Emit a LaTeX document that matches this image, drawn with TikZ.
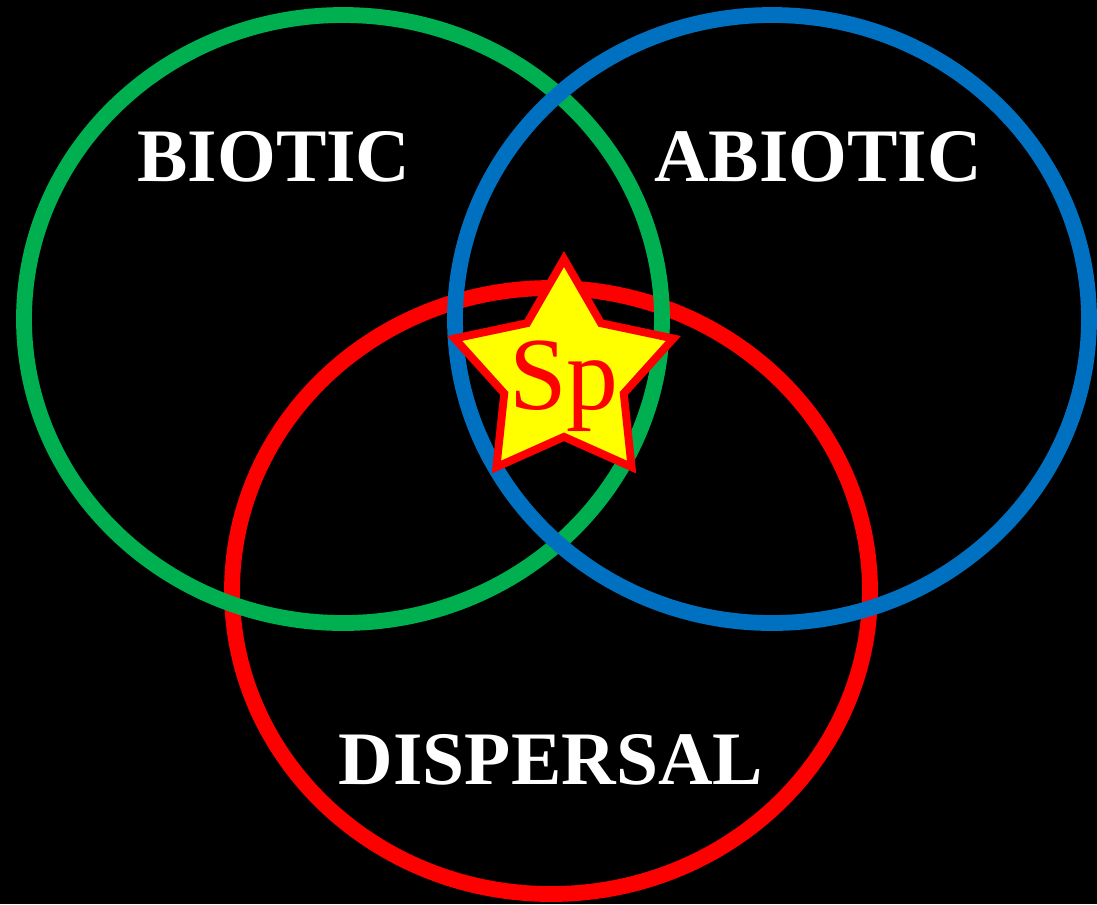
\documentclass[tikz,border=0pt]{standalone}
\usepackage{fontspec}
\setmainfont{Liberation Serif}
\usepackage{tikz}
\usetikzlibrary{shapes.geometric}
\definecolor{Green}{HTML}{00B050}
\definecolor{Blue}{HTML}{0070C0}
\definecolor{Red}{HTML}{FF0000}
\definecolor{Yellow}{HTML}{FFFF00}
\tikzset{ring/.style={line width=9pt},label/.style={text=white,font=\fontsize{43}{47}\selectfont\bfseries},spstar/.style={star,star points=5,star point ratio=1.83,minimum size=4.6cm,inner sep=0pt,draw=Red,fill=Yellow,line width=4.5pt},sptext/.style={text=Red,font=\fontsize{59}{64}\selectfont,inner sep=0pt}}

\begin{document}
\begin{tikzpicture}[x=0.02cm,y=-0.02cm]
      \fill[black](0,0)rectangle(1097,904);
      \useasboundingbox(0,0)rectangle(1097,904);
      \draw[ring,Red](551,591)ellipse[x radius=319,y radius=303];
      \draw[ring,Green](343,319)ellipse[x radius=319,y radius=304];
      \draw[ring,Blue](772,319)ellipse[x radius=317,y radius=304];
      \node[label](bio)at(274,157){BIOTIC};
      \node[label](abio)at(818,157){ABIOTIC};
      \node[label](disp)at(551,760){DISPERSAL};
      \node[spstar](star)at(564,374){};
      \node[sptext](sp)at(564,386){Sp};
    \end{tikzpicture}
\end{document}
